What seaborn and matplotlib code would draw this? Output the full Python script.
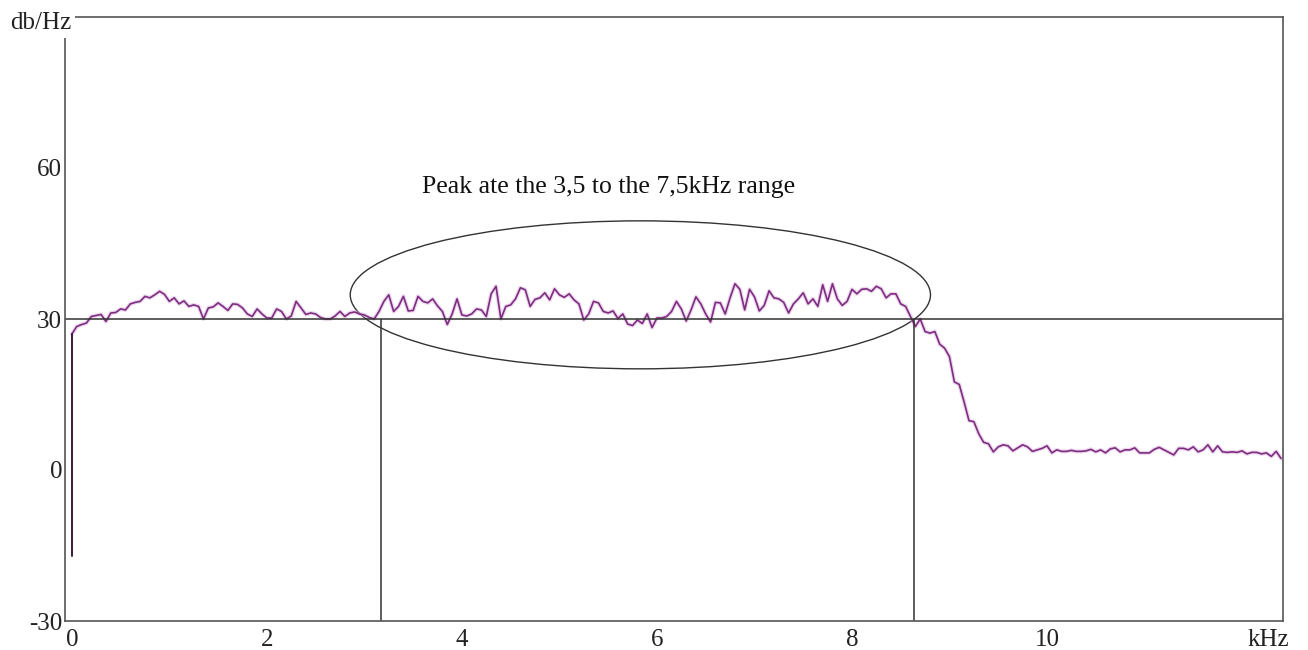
import numpy as np
import matplotlib
matplotlib.use("Agg")
import matplotlib.pyplot as plt
from matplotlib.patches import Ellipse
import seaborn as sns

# spectrum level (dB/Hz) read every 0.05 kHz from 0 kHz
low_band = [27.0, 28.5, 28.9, 29.2, 30.5, 30.7, 30.9, 29.5, 31.2, 31.3,
            32.0, 31.8, 33.0, 33.3, 33.5, 34.5, 34.2, 34.8, 35.5, 34.9,
            33.5, 34.2, 33.0, 33.6, 32.5, 32.8, 32.5, 30.0, 32.2, 32.4,
            33.2, 32.5, 31.7, 33.0, 32.9, 32.2, 31.0, 30.5, 32.0, 31.0,
            30.2, 30.2, 32.0, 31.5, 30.0, 30.6, 33.5, 32.2, 30.9, 31.2,
            31.0, 30.3, 30.0, 30.0, 30.6, 31.5, 30.5, 31.2, 31.4, 31.0,
            30.8, 30.3, 30.0, 31.5, 33.5]
mid_band = [34.8, 31.5, 32.5, 34.5, 31.6, 31.7, 34.5, 33.5, 33.2, 34.0,
            32.6, 31.5, 28.9, 31.0, 34.0, 30.8, 30.6, 31.0, 32.0, 31.8,
            30.5, 35.0, 36.5, 30.0, 32.5, 32.8, 34.0, 36.2, 35.8, 32.5,
            33.9, 34.2, 35.2, 33.8, 36.0, 34.8, 34.3, 35.0, 33.8, 33.0,
            29.8, 31.0, 33.5, 33.2, 31.5, 31.2, 31.6, 30.1, 31.0, 29.0,
            28.7, 29.8, 29.1, 31.0, 28.3, 30.2]
peak_band = [30.2, 30.5, 31.5, 33.5, 32.0, 29.6, 31.8, 34.4, 33.0, 31.0,
             29.4, 33.3, 33.2, 31.0, 34.2, 37.0, 35.9, 31.8, 35.9, 34.4,
             31.6, 32.7, 35.6, 34.2, 34.0, 33.3, 31.2, 33.0, 34.0, 35.2,
             33.0, 34.0, 32.5, 36.8, 33.5, 37.0, 34.0, 32.7, 33.5, 35.9,
             35.0, 35.9, 36.0, 35.5, 36.5, 36.0, 34.2, 35.0, 35.0, 33.0,
             32.5, 30.5, 28.5, 30.0]
rolloff = [27.5, 27.2, 27.5, 25.0, 24.2, 22.5, 17.5, 17.0, 13.5, 9.8,
           9.6, 7.2, 5.5, 5.2, 3.6]
tail = [4.6, 5.0, 4.8, 3.8, 4.4, 5.0, 4.6, 3.7, 4.0, 4.3,
        4.8, 3.4, 4.0, 3.7, 3.7, 3.9, 3.7, 3.7, 3.8, 4.1,
        3.6, 4.0, 3.4, 4.2, 4.4, 3.6, 4.0, 4.0, 4.4, 3.4,
        3.4, 3.4, 4.1, 4.5, 4.0, 3.5, 3.0, 4.3, 4.3, 4.0,
        4.6, 3.6, 4.0, 5.0, 3.6, 4.8, 3.6, 3.5, 3.6, 3.5,
        3.8, 3.2, 3.5, 3.5, 3.2, 3.4, 2.7, 3.7, 2.3]
onset_db = [-17, 27.0]

level_db = low_band + mid_band + peak_band + rolloff + tail
freq_khz = np.arange(len(level_db)) * 0.05

x_ticks = [0, 2, 4, 6, 8, 10, 12.27]
x_labels = ["0", "2", "4", "6", "8", "10", "kHz"]
y_ticks = [-30, 0, 30, 60]
band_edges = [3.17, 8.64]
note = "Peak ate the 3,5 to the 7,5kHz range"

sns.set_theme(style="white")
plt.rcParams["font.family"] = ["Liberation Serif", "DejaVu Serif"]
plt.rcParams["axes.unicode_minus"] = False

fig = plt.figure(figsize=(13.08, 6.5), dpi=100)
ax = fig.add_axes([65 / 1308, 29 / 650, 1218 / 1308, 604 / 650])

sns.lineplot(x=freq_khz, y=level_db, ax=ax, color="#d9b3dc", linewidth=3.0, alpha=0.5)
sns.lineplot(x=freq_khz, y=level_db, ax=ax, color="#7e2c80", linewidth=1.2)
ax.plot([0, 0], onset_db, color="#3a1a3a", linewidth=1.4)

ax.axhline(30, color="#333333", linewidth=1.1)
ax.vlines(band_edges, -30, 30, color="#333333", linewidth=1.1)
ax.add_patch(Ellipse((5.83, 34.8), 5.95, 29.4, fill=False, edgecolor="#333333", linewidth=1.0))
ax.text(5.5, 56.3, note, ha="center", va="center", fontsize=18.5, color="#111111")

ax.set_xlim(-0.07, 12.42)
ax.set_ylim(-30, 90)
ax.set_xticks(x_ticks)
ax.set_xticklabels(x_labels)
ax.set_yticks(y_ticks)
ax.tick_params(axis="both", length=0, labelsize=18, colors="#222222")
ax.tick_params(axis="x", pad=6)
ax.tick_params(axis="y", pad=2)
ax.set_xlabel("")
ax.set_ylabel("")
for s in ax.spines.values():
    s.set_color("#555555")
    s.set_linewidth(1.2)

ax.text(0.005, 0.99, "db/Hz", transform=ax.transAxes, ha="right", va="center",
        fontsize=18, color="#222222", clip_on=False, zorder=5,
        bbox=dict(facecolor="white", edgecolor="none", pad=3))

fig.savefig("out.png", dpi=100)
